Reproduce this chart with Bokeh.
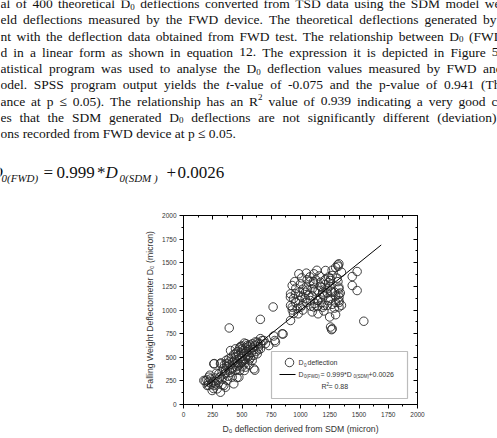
from bokeh.plotting import figure
from bokeh.layouts import column
from bokeh.models import Range1d, LinearAxis, Label, BoxAnnotation, FixedTicker, ColumnDataSource
from bokeh.core.properties import value
from bokeh.embed import file_html
from bokeh.resources import INLINE

# ---------------- page text (cropped page) ----------------
text_lines = [
    "al of 400 theoretical D\u2080 deflections converted from TSD data using the SDM model we",
    "eld deflections measured by the FWD device. The theoretical deflections generated by",
    "nt with the deflection data obtained from FWD test. The relationship between D\u2080 (FWD",
    "d in a linear form as shown in equation 12. The expression it is depicted in Figure 5",
    "atistical program was used to analyse the D\u2080 deflection values measured by FWD and",
    "odel. SPSS program output yields the t-value of -0.075 and the p-value of 0.941 (Th",
    "ance at p \u2264 0.05). The relationship has an R\u00b2 value of 0.939 indicating a very good c",
    "es that the SDM generated D\u2080 deflections are not significantly different (deviation)",
    "ons recorded from FWD device at p \u2264 0.05.",
]
# right end (px) of each justified line in the cropped page; None = last line (not justified)
line_end = [500, 496, 503, 498, 502, 500, 497, 496, None]

# ---------------- chart data ----------------
sdm = [174, 203, 245, 288, 216, 259, 316, 302, 359, 373, 345, 416, 444, 473, 430, 387, 444, 501, 544, 587,
       630, 672, 601, 516, 558, 473, 416, 530, 587, 630, 658, 359, 316, 274, 186, 214, 257, 214, 263, 320,
       366, 394, 457, 230, 250, 270, 290, 310, 330, 350, 380, 400, 260, 300, 330, 240, 200, 225, 280, 340,
       370, 395, 420, 440, 460, 480, 500, 520, 540, 560, 470, 490, 510, 530, 450, 430, 410, 460, 480, 500,
       520, 550, 570, 590, 610, 640, 660, 450, 470, 490, 510, 530, 550, 570, 600, 620, 640, 390, 370, 350,
       330, 360, 420, 440, 500, 520, 560, 540, 580, 600, 500, 480, 520, 560, 609, 402, 444, 487, 536, 638,
       687, 729, 786, 780, 843, 700, 657, 614, 771, 851, 391, 657, 766,
       914, 971, 1014, 1071, 1114, 1143, 1200, 1257, 1249, 1257, 1266, 1329, 1329, 1271, 1541, 1328, 1328,
       1484, 1319, 1322, 1484, 1442, 1442, 1313, 1256, 1328, 1270, 1328, 1214, 1114, 986, 1057, 1000, 929,
       915, 957, 1043, 1114, 1171, 1256, 1228, 1328, 1171, 1085, 1014, 957, 915, 1228, 1143, 1000, 1271,
       1100, 929, 940, 915, 1050, 1150, 1200, 1250, 1000, 1050, 1100, 1180, 1230, 960, 1080, 1160, 1290,
       1300, 1200, 1150, 1100, 980, 1020, 1300, 1050, 1180, 1240, 1130, 1020, 990, 1270, 1120, 1190,
       950, 1010, 1060, 1120, 1170, 1210, 1260, 1300, 1320, 1340, 1350, 1330, 1290, 1240, 1190, 1090,
       1040, 990, 940, 930, 1150, 1210, 1080, 1140, 1270, 1350, 1300, 1240, 1190, 1110]
fwd = [254, 201, 148, 166, 289, 430, 430, 325, 360, 254, 201, 289, 360, 289, 219, 483, 536, 589, 624, 642,
       660, 677, 378, 466, 519, 430, 395, 395, 466, 536, 589, 183, 130, 219, 250, 204, 169, 239, 433, 440,
       468, 363, 285, 270, 240, 280, 260, 290, 270, 320, 300, 340, 200, 230, 210, 215, 260, 310, 330, 380,
       400, 420, 450, 470, 440, 490, 510, 540, 560, 580, 520, 550, 570, 600, 500, 530, 500, 560, 600, 620,
       650, 610, 630, 600, 620, 610, 640, 400, 410, 440, 460, 480, 500, 490, 520, 560, 580, 450, 430, 420,
       350, 330, 380, 430, 450, 430, 470, 520, 550, 580, 400, 360, 360, 420, 363, 571, 589, 614, 642, 642,
       677, 624, 660, 677, 748, 644, 697, 662, 725, 746, 810, 901, 1032,
       1137, 1014, 1049, 1155, 1032, 1102, 1049, 1120, 926, 820, 792, 1137, 1032, 801, 881, 1170, 1100,
       1206, 1478, 1462, 1407, 1354, 1259, 1337, 1330, 1241, 1188, 1489, 1418, 1383, 1383, 1320, 1277, 1259,
       1171, 1171, 1188, 1277, 1294, 1312, 1224, 1224, 1135, 1100, 1135, 1083, 1048, 1048, 1037, 1030, 1365,
       1224, 1030, 963, 889, 1250, 1200, 1150, 1250, 1150, 1080, 1150, 1080, 1180, 1230, 1300, 1360, 1190,
       1080, 990, 960, 980, 960, 1000, 950, 1390, 1240, 1290, 1320, 1220, 1100, 1060, 1070, 1190,
       1300, 1340, 1210, 1200, 1250, 1320, 1200, 1150, 1300, 1180, 1050, 1080, 1020, 1100, 1030, 1040,
       1120, 1190, 1120, 1000, 1100, 1270, 1350, 1420, 1420, 1400, 1450, 1350, 1170, 1300]

fit_slope = 0.999
fit_intercept = 0.0026
fit_x = [180, 1690]
fit_y = [fit_slope * v + fit_intercept for v in fit_x]

ticks = [0, 250, 500, 750, 1000, 1250, 1500, 1750, 2000]
minor = [125, 375, 625, 875, 1125, 1375, 1625, 1875]

SERIF = "Liberation Serif"
SANS = "Liberation Sans"

# Times / Liberation Serif advance widths (1/1000 em)
TW = dict(zip("abcdefghijklmnopqrstuvwxyz",
              [444, 500, 444, 500, 444, 333, 500, 500, 278, 278, 500, 278, 778, 500, 500, 500, 500, 333,
               389, 278, 500, 500, 722, 500, 500, 444]))
TW.update(zip("ABCDEFGHIJKLMNOPQRSTUVWXYZ",
              [722, 667, 667, 722, 611, 556, 722, 722, 333, 389, 722, 611, 889, 722, 722, 556, 722, 667,
               556, 611, 722, 722, 944, 722, 722, 611]))
TW.update({c: 500 for c in "0123456789"})
TW.update({" ": 250, ".": 250, ",": 250, "-": 333, "(": 333, ")": 333, "\u2264": 549, "*": 500,
           "=": 564, "+": 564})

def tw(s, size):
    return sum(TW.get(c, 500) for c in s) / 1000.0 * size

FS = 13.5
SUBFS = 9.0

def word_pieces(word):
    if word == "t-value":
        return [("t", FS, 0, "italic"), ("-value", FS, 0, "normal")]
    out, buf = [], ""
    for ch in word:
        if ch == "\u2080":
            if buf:
                out.append((buf, FS, 0, "normal")); buf = ""
            out.append(("0", SUBFS, 3, "normal"))
        elif ch == "\u00b2":
            if buf:
                out.append((buf, FS, 0, "normal")); buf = ""
            out.append(("2", SUBFS, -4, "normal"))
        else:
            buf += ch
    if buf:
        out.append((buf, FS, 0, "normal"))
    return out

# ---------------- top: page text ----------------
TOP_H = 195
top = figure(width=497, height=TOP_H, x_range=Range1d(0, 497), y_range=Range1d(TOP_H, 0),
             output_backend="svg", toolbar_location=None, min_border=0,
             x_axis_location=None, y_axis_location=None)
top.frame_align = False
top.grid.visible = False
top.outline_line_color = None

first_y, spacing = 3, 16.25
cols = dict(x=[], y=[], text=[], size=[], style=[])
for i, line in enumerate(text_lines):
    y0 = first_y + i * spacing
    words = line.split(" ")
    wp = [word_pieces(w) for w in words]
    widths = [sum(tw(t, s) for t, s, _, _ in pcs) for pcs in wp]
    if line_end[i] is None or len(words) < 2:
        gap = tw(" ", FS)
    else:
        gap = (line_end[i] - sum(widths)) / (len(words) - 1)
    x = 0.0
    for pcs, wdt in zip(wp, widths):
        xx = x
        for t, s, dy, st in pcs:
            cols["x"].append(xx); cols["y"].append(y0 + dy); cols["text"].append(t)
            cols["size"].append("%.1fpx" % s); cols["style"].append(st)
            xx += tw(t, s)
        x += wdt + gap

# equation 12
EQ_Y = 172
eq = [(-10, 0, "D", 17, "italic"), (1, 5, "0(FWD)", 11, "italic"), (43, 0, "=", 17, "normal"),
      (56, 0, "0.999", 17, "normal"), (96.5, 0, "*", 17, "normal"), (105, 0, "D", 17, "italic"),
      (119, 5, "0(SDM )", 11, "italic"), (166, 0, "+", 17, "normal"), (177, 0, "0.0026", 17, "normal")]
for x, dy, t, s, st in eq:
    cols["x"].append(x); cols["y"].append(EQ_Y + dy); cols["text"].append(t)
    cols["size"].append("%dpx" % s); cols["style"].append(st)

top.text(x="x", y="y", text="text", source=ColumnDataSource(cols),
         text_font=value(SERIF), text_font_size="size", text_font_style="style",
         text_baseline="middle", text_color="#111111")

# ---------------- bottom: chart ----------------
BOT_H = 438 - TOP_H
p = figure(width=497, height=BOT_H, x_range=Range1d(0, 2000), y_range=Range1d(0, 2000),
           output_backend="svg", toolbar_location=None,
           min_border_left=183, min_border_right=80, min_border_top=215 - TOP_H,
           min_border_bottom=34)
p.frame_align = False
p.grid.visible = False
p.outline_line_color = "black"
p.outline_line_width = 1

for ax in (p.xaxis[0], p.yaxis[0]):
    ax.ticker = FixedTicker(ticks=ticks, minor_ticks=minor)
    ax.axis_line_color = "black"
    ax.major_tick_out = 4
    ax.major_tick_in = 0
    ax.minor_tick_out = 2
    ax.minor_tick_in = 0
    ax.major_label_text_font = SANS
    ax.major_label_text_font_size = "6.5px"
    ax.major_label_text_color = "#333"
    ax.major_label_standoff = 3
    ax.axis_label_text_font = SANS
    ax.axis_label_text_font_size = "8.7px"
    ax.axis_label_text_font_style = "normal"
    ax.axis_label_text_color = "#333"
    ax.axis_label_standoff = 4

p.xaxis[0].axis_label = "D\u2080 deflection derived from SDM (micron)"
p.yaxis[0].axis_label = "Falling Weight Deflectometer D\u2080 (micron)"

for loc in ("above", "right"):
    a = LinearAxis(ticker=FixedTicker(ticks=ticks, minor_ticks=minor),
                   major_label_overrides={t: "" for t in ticks},
                   major_tick_in=4, major_tick_out=0,
                   minor_tick_in=2, minor_tick_out=0, axis_line_color="black")
    p.add_layout(a, loc)

p.scatter(sdm, fwd, marker="circle", size=8.5, fill_color=None, line_color="#2a2a2a", line_width=0.9)
p.line(fit_x, fit_y, line_color="black", line_width=1)

# legend (drawn manually, positions in canvas pixels)
def fx(px):
    return (px - 183) / 234 * 2000
def fy(py):
    return (404 - py) / 189 * 2000

p.add_layout(BoxAnnotation(left=fx(271), right=fx(407), top=fy(351), bottom=fy(398),
                           fill_color="white", fill_alpha=1, line_color="#222", line_width=1.2))
mk = p.scatter([fx(289)], [fy(362)], marker="circle", size=8.5, fill_color=None,
               line_color="#2a2a2a", line_width=0.9)
mk.level = "overlay"
ln = p.line([fx(279), fx(295)], [fy(374), fy(374)], line_color="black", line_width=1)
ln.level = "overlay"

def lg(px, py, t, size="7px"):
    p.add_layout(Label(x=fx(px), y=fy(py), text=t, text_font=SANS, text_font_size=size,
                       text_baseline="middle", text_color="#333"))

lg(298, 362, "D")
lg(303.5, 364, "0", "4.5px")
lg(307, 362, "deflection")
lg(298, 374, "D")
lg(303.5, 376, "0(FWD)", "4.5px")
lg(320, 374, "= 0.999*D")
lg(353, 376, "0(SDM)", "4.5px")
lg(368, 374, "+0.0026")
lg(321, 386, "R")
lg(326, 383.5, "2", "4.5px")
lg(328, 386, "= 0.88")

layout = column(top, p, spacing=0)
open("out.html", "w").write(file_html(layout, INLINE))
